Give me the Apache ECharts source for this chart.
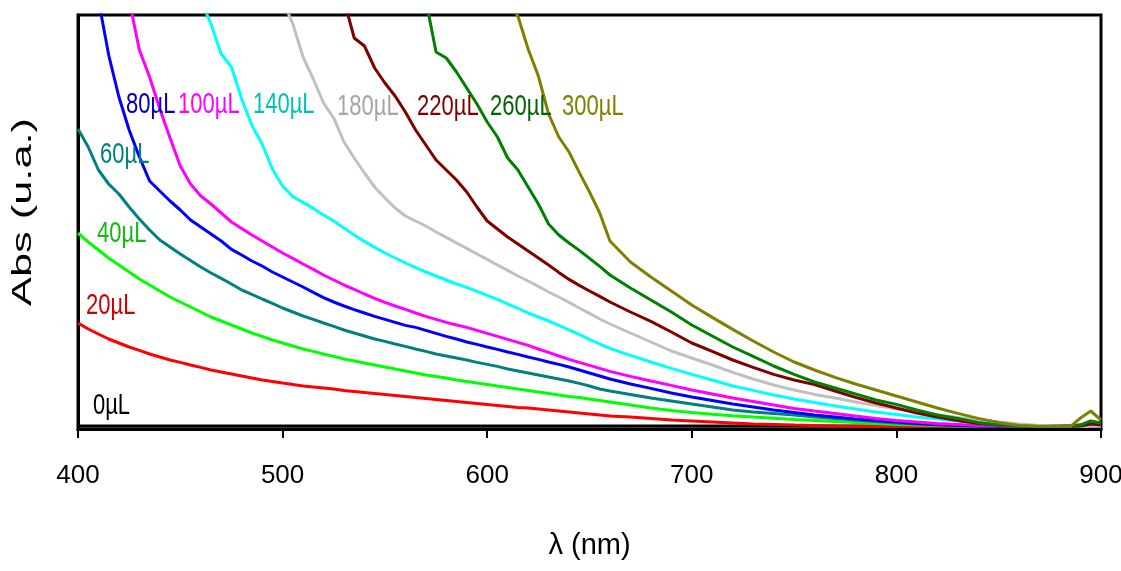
<!DOCTYPE html>
<html><head><meta charset="utf-8">
<script src="https://cdn.jsdelivr.net/npm/echarts@6/dist/echarts.min.js"></script>
<style>html,body{margin:0;padding:0;background:#fff}#c{width:1121px;height:571px}</style>
</head><body><div id="c"></div>
<script>
// wavelengths (nm)
const wavelengths = [400,405,410,415,420,425,430,435,440,445,
  450,455,460,465,470,475,480,485,490,495,
  500,505,510,515,520,525,530,535,540,545,
  550,555,560,565,570,575,580,585,590,595,
  600,605,610,615,620,625,630,635,640,645,
  650,655,660,
  670,680,690,700,710,720,730,740,750,760,770,780,790,800,810,820,830,840,850,860,870,880,
  885,890,895,900];

const abs0 = [.015,.015,.015,.015,.015,.015,.015,.015,.015,.015,
  .015,.015,.015,.015,.015,.015,.015,.015,.015,.015,
  .015,.015,.015,.015,.015,.015,.015,.015,.015,.015,
  .015,.015,.015,.015,.015,.015,.015,.015,.015,.015,
  .015,.015,.015,.015,.015,.015,.015,.015,.015,.015,
  .015,.015,.015,
  .015,.015,.015,.015,.015,.015,.015,.015,.015,.015,.015,.015,.015,.015,.015,.015,.015,.015,.015,.015,.015,.015,
  .015,.02,.018,.02];

const abs20 = [.53,.50,.475,.45,.43,.41,.393,.375,.36,.345,
  .333,.32,.308,.295,.285,.275,.265,.255,.245,.238,
  .23,.223,.215,.21,.205,.2,.193,.188,.183,.178,
  .173,.168,.163,.158,.153,.148,.143,.138,.133,.128,
  .123,.118,.113,.108,.105,.1,.095,.09,.085,.08,
  .075,.07,.065,
  .06,.053,.045,.04,.035,.03,.025,.023,.02,.018,.015,.013,.013,.012,.012,.012,.012,.012,.012,.012,.012,.012,
  .012,.013,.015,.015];

const abs40 = [.98,.935,.895,.855,.82,.785,.75,.72,.69,.66,
  .635,.61,.585,.56,.54,.52,.50,.48,.463,.445,
  .43,.415,.40,.388,.375,.363,.35,.34,.33,.32,
  .31,.30,.29,.28,.27,.263,.255,.245,.238,.23,
  .223,.215,.208,.20,.193,.185,.178,.17,.163,.158,
  .15,.143,.135,
  .12,.105,.093,.082,.074,.066,.06,.054,.048,.043,.038,.032,.028,.023,.02,.018,.015,.013,.012,.012,.012,.012,
  .012,.013,.015,.015];

const abs60 = [1.50,1.41,1.295,1.225,1.175,1.11,1.05,.995,.945,.91,
  .875,.843,.81,.78,.753,.725,.695,.673,.65,.628,
  .605,.585,.565,.548,.53,.513,.495,.48,.465,.45,
  .438,.425,.413,.40,.388,.375,.365,.355,.345,.333,
  .323,.313,.30,.29,.28,.27,.26,.25,.24,.228,
  .215,.20,.19,
  .173,.155,.14,.125,.11,.095,.085,.078,.07,.06,.053,.045,.038,.03,.025,.02,.018,.015,.013,.012,.012,.012,
  .012,.013,.015,.015];

const abs80 = [null,null,2.145,1.87,1.66,1.495,1.36,1.24,1.19,1.14,
  1.095,1.045,1.01,.975,.94,.898,.87,.84,.815,.785,
  .76,.735,.71,.683,.657,.635,.615,.597,.58,.563,
  .548,.533,.518,.508,.493,.478,.463,.45,.435,.423,
  .41,.398,.385,.373,.36,.348,.335,.323,.31,.295,
  .28,.265,.25,
  .225,.203,.18,.16,.143,.125,.11,.095,.083,.07,.06,.05,.043,.035,.028,.023,.018,.015,.013,.012,.012,.012,
  .012,.013,.015,.015];

const abs100 = [null,null,null,null,null,2.145,1.895,1.76,1.60,1.455,
  1.315,1.225,1.165,1.125,1.08,1.035,1.003,.97,.94,.91,
  .88,.853,.825,.798,.77,.745,.72,.698,.675,.653,
  .633,.615,.598,.58,.563,.548,.533,.52,.508,.493,
  .478,.463,.448,.433,.418,.40,.383,.365,.348,.333,
  .318,.303,.288,
  .263,.24,.218,.195,.175,.155,.138,.12,.103,.09,.078,.065,.053,.043,.035,.028,.023,.018,.015,.013,.012,.012,
  .012,.013,.015,.015];

const abs140 = [null,null,null,null,null,null,null,null,null,null,
  null,null,2.145,2.025,1.875,1.81,1.65,1.518,1.425,1.30,
  1.215,1.162,1.133,1.103,1.07,1.04,1.005,.97,.938,.908,
  .88,.855,.83,.807,.785,.765,.745,.725,.708,.688,
  .668,.648,.625,.603,.58,.56,.54,.518,.495,.473,
  .448,.425,.403,
  .368,.335,.303,.273,.245,.215,.193,.17,.15,.133,.115,.10,.085,.073,.06,.05,.04,.033,.025,.02,.015,.013,
  .012,.013,.015,.015];

const abs180 = [null,null,null,null,null,null,null,null,null,null,
  null,null,null,null,null,null,null,null,null,null,
  2.145,2.025,1.86,1.75,1.63,1.555,1.435,1.355,1.28,1.21,
  1.155,1.105,1.065,1.04,1.015,.985,.958,.93,.903,.875,
  .848,.82,.793,.765,.74,.713,.685,.66,.633,.605,
  .578,.55,.525,
  .48,.435,.39,.355,.32,.283,.25,.22,.195,.173,.155,.135,.118,.10,.085,.07,.058,.045,.035,.025,.018,.013,
  .012,.013,.015,.015];

const abs220 = [null,null,null,null,null,null,null,null,null,null,
  null,null,null,null,null,null,null,null,null,null,
  null,null,null,null,null,null,2.145,1.955,1.915,1.805,
  1.73,1.665,1.585,1.495,1.42,1.345,1.295,1.245,1.185,1.11,
  1.04,1.00,.96,.925,.89,.855,.82,.783,.748,.718,
  .69,.663,.635,
  .585,.538,.485,.43,.388,.345,.308,.273,.245,.222,.19,.158,.13,.105,.08,.06,.043,.028,.02,.015,.013,.013,
  .013,.015,.025,.02];

const abs260 = [null,null,null,null,null,null,null,null,null,null,
  null,null,null,null,null,null,null,null,null,null,
  null,null,null,null,null,null,null,null,null,null,
  null,null,null,null,2.145,1.885,1.855,1.785,1.705,1.625,
  1.535,1.46,1.355,1.295,1.21,1.125,1.025,.97,.93,.893,
  .853,.813,.77,
  .705,.645,.585,.52,.465,.41,.363,.315,.273,.235,.205,.175,.145,.123,.095,.07,.053,.033,.02,.013,.013,.013,
  .015,.02,.04,.03];

const abs300 = [null,null,null,null,null,null,null,null,null,null,
  null,null,null,null,null,null,null,null,null,null,
  null,null,null,null,null,null,null,null,null,null,
  null,null,null,null,null,null,null,null,null,null,
  null,null,2.145,2.065,1.90,1.765,1.575,1.46,1.385,1.283,
  1.185,1.08,.94,
  .835,.76,.69,.62,.558,.498,.44,.385,.335,.295,.258,.225,.195,.165,.135,.105,.078,.053,.033,.018,.012,.012,
  .012,.055,.09,.045];

const seriesNames = ['0µL','20µL','40µL','60µL','80µL','100µL','140µL','180µL','220µL','260µL','300µL'];
const xTicks = [400, 500, 600, 700, 800, 900];

// styling / placement (not data)
const valueSets = [abs0,abs20,abs40,abs60,abs80,abs100,abs140,abs180,abs220,abs260,abs300];
const lineColors = ['#000000','#ff0000','#00ff00','#008080','#0000ff','#ff00ff','#00ffff','#c0c0c0','#800000','#008000','#808000'];
const labelColors = ['#000000','#cc0000','#10bb10','#008080','#0000b0','#ff00ff','#00bfbf','#a6a6a6','#800000','#006400','#808000'];
const labelAnchors = [[407.3,0.115],[403.9,0.615],[409.3,0.975],[410.8,1.368],[423.5,1.62],[448.9,1.62],[485.5,1.62],[526.6,1.61],[565.7,1.61],[601.4,1.61],[636.6,1.61]];

const FONT = "'Liberation Sans',Arial,sans-serif";

const chart = echarts.init(document.getElementById('c'), null, {renderer:'canvas'});
const series = valueSets.map((vals, i) => ({
  type: 'line',
  name: seriesNames[i],
  data: wavelengths.map((w, j) => [w, vals[j]]).filter(d => d[1] !== null),
  showSymbol: false,
  symbol: 'none',
  clip: true,
  lineStyle: { color: lineColors[i], width: 3 },
  itemStyle: { color: lineColors[i] },
  z: 2 + i
}));

chart.setOption({
  animation: false,
  backgroundColor: '#ffffff',
  grid: { left: 78, right: 20, top: 15, bottom: 142, show: true, borderColor: '#000', borderWidth: 3,
          containLabel: false, outerBoundsMode: 'none' },
  xAxis: {
    type: 'value', min: xTicks[0], max: xTicks[xTicks.length-1], interval: 100,
    axisLine: { show: true, onZero: false, lineStyle: { color: '#000', width: 3 } },
    axisTick: { show: true, length: 9, lineStyle: { color: '#000', width: 2 } },
    axisLabel: { color: '#000', fontSize: 26, fontFamily: FONT, margin: 34 },
    splitLine: { show: false },
    name: 'λ (nm)', nameLocation: 'middle', nameGap: 102,
    nameTextStyle: { color: '#000', fontSize: 29, fontFamily: FONT }
  },
  yAxis: {
    type: 'value', min: 0, max: 2.07,
    axisLine: { show: true, lineStyle: { color: '#000', width: 3 } },
    axisTick: { show: false }, axisLabel: { show: false }, splitLine: { show: false }
  },
  series: series
});

// curve labels: anchored in data coordinates, converted through the chart's own scales
const graphics = [{
  type: 'text', x: 23, y: 212, rotation: Math.PI / 2, scaleX: 1.55, scaleY: 1,
  style: { text: 'Abs (u.a.)', fontSize: 28, fontFamily: FONT, fill: '#000', align: 'center', verticalAlign: 'middle' }
}];
labelAnchors.forEach((c, i) => {
  const p = chart.convertToPixel({ xAxisIndex: 0, yAxisIndex: 0 }, c);
  graphics.push({
    type: 'text', x: p[0], y: p[1], scaleX: 1, scaleY: 1.33, z: 50,
    style: { text: seriesNames[i], fontSize: 22, fontFamily: FONT, fill: labelColors[i], align: 'left', verticalAlign: 'middle' }
  });
});
chart.setOption({ graphic: graphics });
</script>
</body></html>
